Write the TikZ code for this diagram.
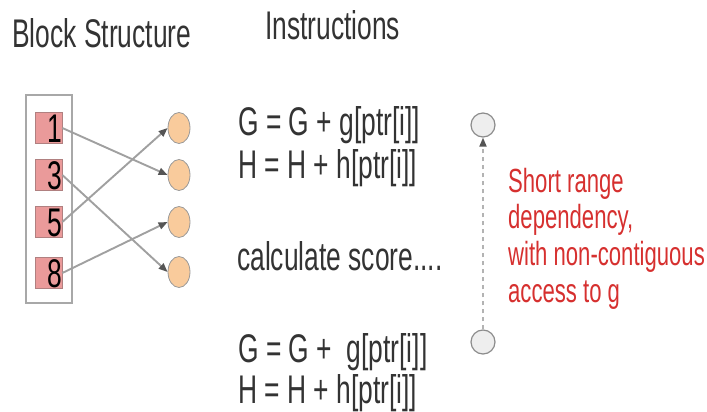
\documentclass[tikz,border=0pt]{standalone}
\usepackage{fontspec}
\setmainfont{Liberation Sans}[FakeStretch=0.66]
\usetikzlibrary{arrows.meta,shapes.geometric}
\definecolor{txt}{HTML}{333333}
\definecolor{sqfill}{HTML}{EA9A9A}
\definecolor{sqdraw}{HTML}{B08080}
\definecolor{orfill}{HTML}{F9CB9C}
\definecolor{boxgray}{HTML}{A8A8A8}
\definecolor{lgray}{HTML}{A0A0A0}
\definecolor{dgray}{HTML}{555555}
\definecolor{circfill}{HTML}{EEEEEE}
\definecolor{redtxt}{HTML}{D6302F}
\begin{document}
\begin{tikzpicture}[x=1pt,y=-1pt,
  lbl/.style={anchor=base west, inner sep=0pt, text=txt, font=\fontsize{40}{44}\selectfont},
  redlbl/.style={anchor=base west, inner sep=0pt, text=redtxt, font=\fontsize{33.5}{36}\selectfont},
  blkbox/.style={rectangle, draw=boxgray, line width=2pt, minimum width=46pt, minimum height=208pt, inner sep=0pt},
  sq/.style={rectangle, fill=sqfill, draw=sqdraw, line width=0.6pt, minimum width=27pt, minimum height=31pt,
    inner sep=0pt, text width=27pt, align=right, text height=28pt, text depth=0pt,
    font=\fontsize{40}{44}\selectfont, text=black},
  ell/.style={ellipse, fill=orfill, draw=gray!80, line width=0.8pt, minimum width=22pt, minimum height=31pt, inner sep=0pt},
  conn/.style={draw=lgray, line width=1.9pt, -{Triangle[length=9pt,width=7pt,color=dgray]}},
  circ/.style={circle, fill=circfill, draw=gray!90, line width=1.2pt, minimum size=24pt, inner sep=0pt},
  dep/.style={draw=lgray!80, line width=1.8pt, dash pattern=on 4pt off 4pt, -{Triangle[length=9pt,width=7pt,color=dgray]}}
]
\useasboundingbox (0,0) rectangle (707,412);

% titles
\node[lbl] (tblock) at (12,48) {Block Structure};
\node[lbl] (tinstr) at (265,40) {Instructions};

% block structure
\node[blkbox] (blk) at (49,199) {};
\node[sq] (s1) at (48.5,128) {1};
\node[sq] (s3) at (48.5,175) {3};
\node[sq] (s5) at (48.5,222) {5};
\node[sq] (s8) at (48.5,273) {8};

\node[ell] (e1) at (179,128) {};
\node[ell] (e2) at (179,175) {};
\node[ell] (e3) at (179,222) {};
\node[ell] (e4) at (179,272) {};

\draw[conn] (s1.east) -- (e2.west);
\draw[conn] (s3.east) -- (e4.west);
\draw[conn] (s5.east) -- (e1.west);
\draw[conn] (s8.east) -- (e3.west);

% instructions
\node[lbl] (g1) at (238,135) {G = G + g[ptr[i]]};
\node[lbl] (h1) at (238,178) {H = H + h[ptr[i]]};
\node[lbl] (calc) at (237,270) {calculate score....};
\node[lbl] (g2) at (238,362) {G = G +\ \ g[ptr[i]]};
\node[lbl] (h2) at (238,403) {H = H + h[ptr[i]]};

% dependency
\node[circ] (c1) at (483,125) {};
\node[circ] (c2) at (483,342) {};
\draw[dep] (c2) -- (c1);

\node[redlbl] (r1) at (508,192) {Short range};
\node[redlbl] (r2) at (508,228) {dependency,};
\node[redlbl] (r3) at (508,265) {with non-contiguous};
\node[redlbl] (r4) at (508,302) {access to g};
\end{tikzpicture}
\end{document}
